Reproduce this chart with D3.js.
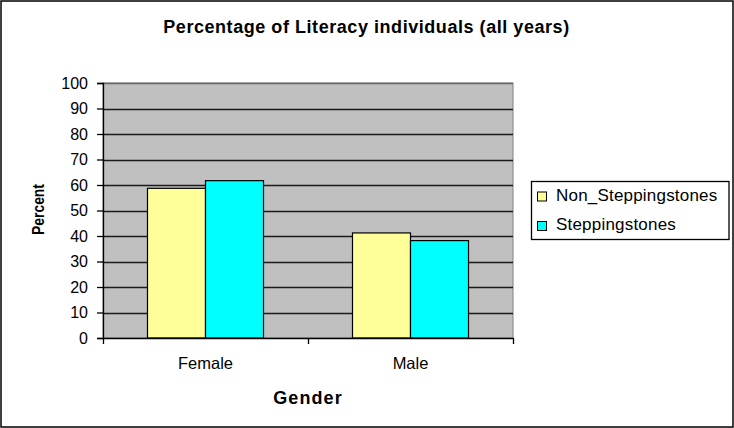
<!DOCTYPE html>
<html>
<head>
<meta charset="utf-8">
<script src="https://cdn.jsdelivr.net/npm/d3@7"></script>
<style>
  html, body { margin: 0; padding: 0; background: #fff; }
  svg { display: block; font-family: "Liberation Sans", Arial, sans-serif; }
</style>
</head>
<body>
<svg id="chart" width="734" height="428"></svg>
<script>
// Literacy percentages by gender
const categories = ["Female", "Male"];
const seriesNames = ["Non_Steppingstones", "Steppingstones"];
const nonSteppingstones = [58.7, 41.2];
const steppingstones = [61.7, 38.2];
const yTicks = [0, 10, 20, 30, 40, 50, 60, 70, 80, 90, 100];
const seriesColors = ["#FFFF99", "#00FFFF"];

const svg = d3.select("#chart");
const W = 734, H = 428;
const FONT = "'Liberation Sans', Arial, sans-serif";

// outer frame
svg.append("rect")
  .attr("x", 1).attr("y", 1).attr("width", W - 2).attr("height", H - 2)
  .attr("fill", "#fff").attr("stroke", "#000").attr("stroke-width", 1.5);

const plot = { left: 103, right: 513, top: 83, bottom: 338 };

// category bands, each holding two bars with a 150% gap
const x = d3.scaleBand().domain(categories).range([plot.left, plot.right]).padding(0);
const x1 = d3.scaleBand().domain(seriesNames).range([0, x.bandwidth()])
  .paddingInner(0).paddingOuter(0.767);
const y = d3.scaleLinear().domain([0, 100]).range([plot.bottom, plot.top]);

// plot background
svg.append("rect")
  .attr("x", plot.left).attr("y", plot.top)
  .attr("width", plot.right - plot.left).attr("height", plot.bottom - plot.top)
  .attr("fill", "#C0C0C0").attr("stroke", "#808080").attr("stroke-width", 1);

// horizontal gridlines
svg.append("g").selectAll("line")
  .data(yTicks.filter(d => d > 0))
  .join("line")
  .attr("x1", plot.left).attr("x2", plot.right)
  .attr("y1", d => Math.round(y(d)) + 0.5).attr("y2", d => Math.round(y(d)) + 0.5)
  .attr("stroke", d => d === 100 ? "#666" : "#1a1a1a").attr("stroke-width", 1.3);

// bars
const data = categories.map((c, i) => ({
  cat: c,
  vals: [
    { name: seriesNames[0], v: nonSteppingstones[i], color: seriesColors[0] },
    { name: seriesNames[1], v: steppingstones[i], color: seriesColors[1] }
  ]
}));

svg.append("g").selectAll("g")
  .data(data).join("g")
  .attr("transform", d => `translate(${x(d.cat)},0)`)
  .selectAll("rect")
  .data(d => d.vals).join("rect")
  .attr("x", d => x1(d.name))
  .attr("width", x1.bandwidth())
  .attr("y", d => y(d.v))
  .attr("height", d => y(0) - y(d.v))
  .attr("fill", d => d.color)
  .attr("stroke", "#000").attr("stroke-width", 1.2);

// y axis
const yAxis = d3.axisLeft(y).tickValues(yTicks).tickSize(6).tickPadding(9);
const gy = svg.append("g").attr("transform", `translate(${plot.left},0)`).call(yAxis);
gy.select(".domain").attr("stroke", "#000").attr("stroke-width", 1.3);
gy.selectAll(".tick line").attr("stroke", "#000").attr("stroke-width", 1.3);
gy.selectAll("text").attr("font-size", 16).attr("fill", "#000").attr("font-family", FONT);

// x axis
const xAxis = d3.axisBottom(x).tickSize(0).tickPadding(19);
const gx = svg.append("g").attr("transform", `translate(0,${plot.bottom})`).call(xAxis);
gx.select(".domain").attr("stroke", "#000").attr("stroke-width", 1.3);
gx.selectAll("text").attr("font-size", 16.5).attr("fill", "#000").attr("font-family", FONT);

// category boundary ticks
const bounds = [plot.left, ...categories.map(c => x(c) + x.bandwidth())];
svg.append("g").selectAll("line")
  .data(bounds).join("line")
  .attr("x1", d => Math.round(d) + 0.5).attr("x2", d => Math.round(d) + 0.5)
  .attr("y1", plot.bottom).attr("y2", plot.bottom + 6)
  .attr("stroke", "#000").attr("stroke-width", 1.3);

// title
svg.append("text")
  .attr("x", 366.5).attr("y", 32.5)
  .attr("text-anchor", "middle")
  .attr("font-size", 18).attr("font-weight", "bold")
  .attr("letter-spacing", 0.55)
  .text("Percentage of Literacy individuals (all years)");

// axis titles
svg.append("text")
  .attr("x", 308).attr("y", 404)
  .attr("text-anchor", "middle")
  .attr("font-size", 18).attr("font-weight", "bold")
  .attr("letter-spacing", 1.1)
  .text("Gender");

svg.append("text")
  .attr("transform", `translate(43.5,${(plot.top + plot.bottom) / 2 - 1}) rotate(-90)`)
  .attr("text-anchor", "middle")
  .attr("font-size", 17).attr("font-weight", "bold")
  .attr("textLength", 51).attr("lengthAdjust", "spacingAndGlyphs")
  .text("Percent");

// legend
const lg = svg.append("g");
lg.append("rect")
  .attr("x", 531.5).attr("y", 181.5).attr("width", 197.5).attr("height", 58)
  .attr("fill", "#fff").attr("stroke", "#000").attr("stroke-width", 1.3);
const items = lg.selectAll("g.item")
  .data(seriesNames).join("g")
  .attr("class", "item")
  .attr("transform", (d, i) => `translate(537,${200.5 + i * 29.5})`);
items.append("rect")
  .attr("x", 0.5).attr("y", -8.5).attr("width", 9).attr("height", 9)
  .attr("fill", (d, i) => seriesColors[i]).attr("stroke", "#000").attr("stroke-width", 1);
items.append("text")
  .attr("x", 19).attr("y", 0)
  .attr("font-size", 17)
  .attr("letter-spacing", 0.2)
  .text(d => d);
</script>
</body>
</html>
